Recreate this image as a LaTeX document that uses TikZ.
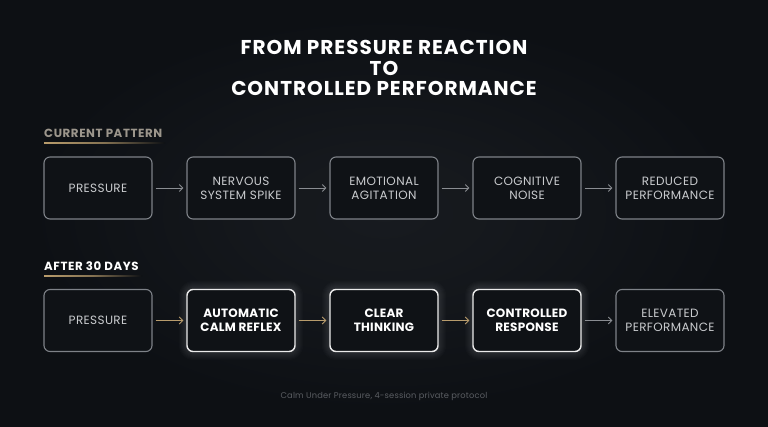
\documentclass[tikz,border=0pt]{standalone}
\usepackage{fontspec}
\setmainfont{Poppins}
\usetikzlibrary{arrows.meta}
\definecolor{bgdark}{HTML}{0D1014}
\definecolor{bgmid}{HTML}{1A1D22}
\definecolor{boxfill}{HTML}{0F1216}
\definecolor{boxline}{HTML}{7E8288}
\definecolor{boxtext}{HTML}{C9CBCE}
\definecolor{gold}{HTML}{B89C6C}
\definecolor{goldlabel}{HTML}{9C968C}
\definecolor{arrowgray}{HTML}{8A8D92}
\definecolor{foot}{HTML}{5A5D62}
\tikzset{
  stage/.style={draw=boxline, line width=1.1pt, fill=boxfill, rounded corners=6pt,
    minimum width=108pt, minimum height=62pt, align=center, inner sep=2pt,
    text=boxtext, font=\fontsize{12}{14}\selectfont\addfontfeatures{LetterSpace=3}},
  keystage/.style={stage, draw=white!92!black, line width=1.4pt, text=white,
    font=\fontsize{12}{14}\selectfont\bfseries\addfontfeatures{LetterSpace=2}},
  flow/.style={draw=arrowgray, line width=0.9pt, -{Straight Barb[length=3.5pt,width=7pt]},
    shorten <=3pt, shorten >=3pt},
  goldflow/.style={flow, draw=gold},
  sectlabel/.style={anchor=west, font=\fontsize{11.8}{12}\selectfont\bfseries\addfontfeatures{LetterSpace=5}, inner sep=0pt},
}
\begin{document}
\begin{tikzpicture}[x=1pt,y=-1pt]
\useasboundingbox (0,0) rectangle (768,427);
\fill[bgdark] (0,0) rectangle (768,427);
\shade[inner color=bgmid, outer color=bgdark, opacity=0.9] (0,0) rectangle (768,427);

% title
\node[text=white, align=center, font=\fontsize{20}{20.5}\selectfont\bfseries\addfontfeatures{LetterSpace=5}] (title) at (384,68)
  {FROM PRESSURE REACTION\\TO\\CONTROLLED PERFORMANCE};

% section labels
\node[sectlabel, text=goldlabel] (cur) at (44,133) {CURRENT PATTERN};
\shade[left color=gold, right color=bgdark, middle color=gold!70!bgdark] (44,142.5) rectangle (165,143.7);
\node[sectlabel, text=white] (after) at (44,266) {AFTER 30 DAYS};
\shade[left color=gold, right color=bgdark, middle color=gold!70!bgdark] (44,275.5) rectangle (142,276.7);

% glows
\foreach \cx in {241,384,527}{
  \foreach \g in {1,...,8}{
    \fill[white, opacity=0.015, rounded corners=6pt+\g pt] (\cx-54-\g,289-\g) rectangle (\cx+54+\g,352+\g);
  }
}

% row 1
\node[stage] (a1) at (98,188) {PRESSURE};
\node[stage] (a2) at (241,188) {NERVOUS\\SYSTEM SPIKE};
\node[stage] (a3) at (384,188) {EMOTIONAL\\AGITATION};
\node[stage] (a4) at (527,188) {COGNITIVE\\NOISE};
\node[stage] (a5) at (670,188) {REDUCED\\PERFORMANCE};
\draw[flow] (a1) -- (a2);
\draw[flow] (a2) -- (a3);
\draw[flow] (a3) -- (a4);
\draw[flow] (a4) -- (a5);

% row 2
\node[stage] (b1) at (98,320.5) {PRESSURE};
\node[keystage] (b2) at (241,320.5) {AUTOMATIC\\CALM REFLEX};
\node[keystage] (b3) at (384,320.5) {CLEAR\\THINKING};
\node[keystage] (b4) at (527,320.5) {CONTROLLED\\RESPONSE};
\node[stage] (b5) at (670,320.5) {ELEVATED\\PERFORMANCE};
\draw[goldflow] (b1) -- (b2);
\draw[goldflow] (b2) -- (b3);
\draw[goldflow] (b3) -- (b4);
\draw[flow] (b4) -- (b5);

% footer
\node[text=foot, font=\fontsize{8.3}{9}\selectfont\addfontfeatures{LetterSpace=2}] (foot) at (384,396) {Calm Under Pressure, 4-session private protocol};
\end{tikzpicture}
\end{document}
